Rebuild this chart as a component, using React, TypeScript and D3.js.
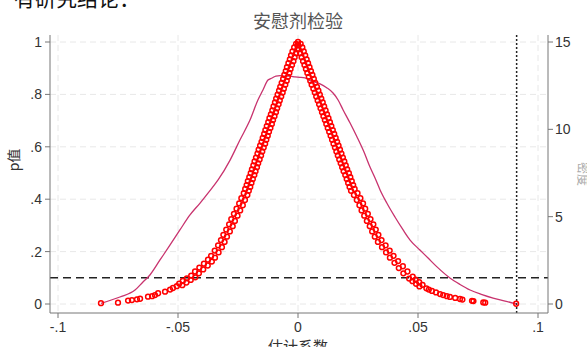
import React from "react";
import * as d3 from "d3";

// Placebo test: estimated coefficient vs p-value (red hollow circles)
const placeboCoef = [
  0.0, -0.0008, -0.0001, -0.0016, -0.0003, -0.0023, -0.0008, -0.0029, -0.0014, -0.0034, -0.0019,
  -0.004, -0.0025, -0.0046, -0.0031, -0.0051, -0.0036, -0.0057, -0.0042, -0.0062, -0.0047,
  -0.0068, -0.0053, -0.0074, -0.0059, -0.0079, -0.0064, -0.0085, -0.007, -0.0091, -0.0076,
  -0.0096, -0.0081, -0.0102, -0.0087, -0.0107, -0.0092, -0.0113, -0.0098, -0.0119, -0.0104,
  -0.0124, -0.0109, -0.013, -0.0115, -0.0136, -0.0121, -0.0141, -0.0126, -0.0147, -0.0132,
  -0.0152, -0.0137, -0.0158, -0.0143, -0.0164, -0.0149, -0.0169, -0.0154, -0.0175, -0.016,
  -0.0181, -0.0166, -0.0186, -0.0171, -0.0192, -0.0177, -0.0197, -0.0182, -0.0203, -0.0188,
  -0.0209, -0.0194, -0.0214, -0.0199, -0.022, -0.0205,
  -0.0226, -0.0211, -0.0236, -0.0221, -0.0245, -0.023, -0.0256, -0.0241, -0.0267, -0.0252,
  -0.0278, -0.0263, -0.0287, -0.0272, -0.0299, -0.0284, -0.0311, -0.0296, -0.0321, -0.0306,
  -0.0333, -0.0317, -0.0347, -0.0331, -0.0362, -0.0346, -0.0375, -0.0359, -0.0392, -0.0376,
  -0.0411, -0.0395, -0.0429, -0.0413, -0.0445, -0.0428, -0.0463, -0.0447, -0.048, -0.0465,
  -0.0495, -0.0482, -0.0505, -0.0521, -0.0533, -0.0554, -0.0583, -0.0596, -0.0608, -0.0625,
  -0.0658, -0.0671, -0.0692, -0.0708, -0.075, -0.0821,
  0.0011, 0.0001, 0.0018, 0.0003, 0.0024, 0.0009, 0.003, 0.0015, 0.0036, 0.0021,
  0.0042, 0.0027, 0.0048, 0.0033, 0.0054, 0.0039, 0.006, 0.0045, 0.0066, 0.0051,
  0.0072, 0.0057, 0.0079, 0.0064, 0.0085, 0.007, 0.0091, 0.0076, 0.0097, 0.0082,
  0.0103, 0.0088, 0.0109, 0.0094, 0.0115, 0.01, 0.0121, 0.0106, 0.0127, 0.0112,
  0.0133, 0.0118, 0.0139, 0.0124, 0.0145, 0.013, 0.0151, 0.0136, 0.0157, 0.0142,
  0.0163, 0.0148, 0.0169, 0.0154, 0.0175, 0.016, 0.0181, 0.0166, 0.0187, 0.0172,
  0.0193, 0.0178, 0.0199, 0.0184, 0.0205, 0.019, 0.0212, 0.0197, 0.0218, 0.0203,
  0.0224, 0.0209, 0.023, 0.0215, 0.0236, 0.0221,
  0.0248, 0.0233, 0.026, 0.0245, 0.0271, 0.0256, 0.028, 0.0265, 0.0291, 0.0276,
  0.0302, 0.0287, 0.0314, 0.0299, 0.0324, 0.0309, 0.0335, 0.032, 0.0348, 0.0333,
  0.0365, 0.035, 0.0382, 0.0367, 0.0398, 0.0383, 0.0417, 0.0402, 0.0437, 0.042,
  0.0456, 0.0439, 0.0478, 0.0463, 0.049, 0.0477, 0.0505, 0.0492, 0.0519, 0.0506,
  0.0535, 0.0545, 0.0558, 0.0575, 0.0592, 0.0605, 0.062, 0.0633,
  0.0655, 0.0675, 0.0685, 0.0725, 0.0731, 0.0772, 0.078, 0.0909,
];
const placeboP = [
  1.0, 0.993, 0.988, 0.979, 0.972, 0.964, 0.957, 0.949, 0.942, 0.934, 0.927,
  0.919, 0.912, 0.904, 0.897, 0.889, 0.882, 0.874, 0.867, 0.859, 0.852,
  0.844, 0.837, 0.829, 0.822, 0.814, 0.807, 0.799, 0.792, 0.784, 0.777,
  0.769, 0.762, 0.754, 0.747, 0.739, 0.732, 0.724, 0.717, 0.709, 0.702,
  0.694, 0.687, 0.679, 0.672, 0.664, 0.657, 0.649, 0.642, 0.634, 0.627,
  0.619, 0.612, 0.604, 0.597, 0.589, 0.582, 0.574, 0.567, 0.559, 0.552,
  0.544, 0.537, 0.529, 0.522, 0.514, 0.507, 0.499, 0.492, 0.484, 0.477,
  0.469, 0.462, 0.454, 0.447, 0.439, 0.432,
  0.423, 0.416, 0.404, 0.397, 0.384, 0.377, 0.364, 0.357, 0.344, 0.337,
  0.324, 0.317, 0.304, 0.297, 0.284, 0.277, 0.264, 0.257, 0.244, 0.237,
  0.224, 0.217, 0.204, 0.197, 0.184, 0.177, 0.169, 0.162, 0.154, 0.147,
  0.139, 0.132, 0.124, 0.117, 0.108, 0.102, 0.098, 0.092, 0.088, 0.082,
  0.078, 0.072, 0.068, 0.061, 0.055, 0.047, 0.041, 0.034, 0.03, 0.028,
  0.02, 0.018, 0.015, 0.013, 0.005, 0.003,
  0.993, 0.988, 0.979, 0.972, 0.964, 0.957, 0.949, 0.942, 0.934, 0.927,
  0.919, 0.912, 0.904, 0.897, 0.889, 0.882, 0.874, 0.867, 0.859, 0.852,
  0.844, 0.837, 0.829, 0.822, 0.814, 0.807, 0.799, 0.792, 0.784, 0.777,
  0.769, 0.762, 0.754, 0.747, 0.739, 0.732, 0.724, 0.717, 0.709, 0.702,
  0.694, 0.687, 0.679, 0.672, 0.664, 0.657, 0.649, 0.642, 0.634, 0.627,
  0.619, 0.612, 0.604, 0.597, 0.589, 0.582, 0.574, 0.567, 0.559, 0.552,
  0.544, 0.537, 0.529, 0.522, 0.514, 0.507, 0.499, 0.492, 0.484, 0.477,
  0.469, 0.462, 0.454, 0.447, 0.439, 0.432,
  0.423, 0.416, 0.404, 0.397, 0.384, 0.377, 0.364, 0.357, 0.344, 0.337,
  0.324, 0.317, 0.304, 0.297, 0.284, 0.277, 0.264, 0.257, 0.244, 0.237,
  0.224, 0.217, 0.204, 0.197, 0.184, 0.177, 0.164, 0.157, 0.144, 0.137,
  0.124, 0.117, 0.104, 0.097, 0.093, 0.087, 0.083, 0.077, 0.073, 0.067,
  0.06, 0.055, 0.05, 0.044, 0.038, 0.034, 0.03, 0.027,
  0.023, 0.019, 0.017, 0.012, 0.011, 0.006, 0.005, 0.001,
];

// Kernel density of placebo coefficients (right axis)
const densityCoef = [
  -0.0821, -0.0742, -0.0679, -0.0646, -0.0617, -0.0575, -0.0533, -0.0492, -0.045, -0.0408,
  -0.0375, -0.0333, -0.0283, -0.0242, -0.02, -0.0167, -0.0146, -0.0125, -0.0108, -0.0092,
  -0.0075, -0.0054, -0.0033, -0.0013, 0.0008, 0.0029, 0.005, 0.0092, 0.0121, 0.0146,
  0.0167, 0.0188, 0.0217, 0.0246, 0.0275, 0.03, 0.0321, 0.0342, 0.037, 0.0404,
  0.0438, 0.0467, 0.0508, 0.0542, 0.0578, 0.0633, 0.0675, 0.0717, 0.0767, 0.0813,
  0.0863, 0.0909,
];
const densityVal = [
  0.04, 0.4, 0.8, 1.26, 1.66, 2.52, 3.38, 4.24, 5.1, 5.78,
  6.35, 7.1, 8.24, 9.39, 10.53, 11.68, 12.25, 12.82, 12.94, 13.05,
  13.07, 13.05, 13.05, 13.0, 12.98, 12.94, 12.79, 12.6, 12.37, 12.08,
  11.68, 11.11, 10.36, 9.56, 8.7, 7.84, 7.21, 6.53, 5.78, 4.98,
  4.24, 3.66, 3.09, 2.63, 2.14, 1.49, 1.12, 0.8, 0.54, 0.34,
  0.17, 0.0,
];

const xTicks = [-0.1, -0.05, 0, 0.05, 0.1];
const xTickLabels = ["-.1", "-.05", "0", ".05", ".1"];
const yTicks = [0, 0.2, 0.4, 0.6, 0.8, 1];
const yTickLabels = ["0", ".2", ".4", ".6", ".8", "1"];
const y2Ticks = [0, 5, 10, 15];
const y2TickLabels = ["0", "5", "10", "15"];
const pThreshold = 0.1;
const trueCoef = 0.0911;

const W = 587;
const H = 347;
const frame = { left: 50, right: 548, top: 35, bottom: 313 };
const FONT = "'Liberation Sans', Arial, sans-serif";
const CJK = "'Noto Sans CJK SC', sans-serif";

export default function App() {
  const x = d3.scaleLinear().domain([-0.1, 0.1]).range([58, 538]);
  const y = d3.scaleLinear().domain([0, 1]).range([304, 42]);
  const y2 = d3.scaleLinear().domain([0, 15]).range([304, 42]);

  const densityLine = d3
    .line<number>()
    .x((_, i) => x(densityCoef[i]))
    .y((d) => y2(d))
    .curve(d3.curveMonotoneX)(densityVal) as string;

  const axisColor = "#777";
  const labelColor = "#333";

  return (
    <svg
      width={W}
      height={H}
      style={{ position: "absolute", left: 0, top: 0, display: "block", background: "#fff" }}
    >
      <rect x={0} y={0} width={W} height={H} fill="#fff" />
      {/* cropped document text at top */}
      <text x={14} y={6} fontFamily={CJK} fontSize={21} fill="#111">
        有研究结论：
      </text>
      {/* title */}
      <text x={298} y={28} textAnchor="middle" fontFamily={CJK} fontSize={18} fill="#555">
        安慰剂检验
      </text>

      {/* grid */}
      {yTicks.map((t) => (
        <line
          key={"gy" + t}
          x1={frame.left}
          x2={frame.right}
          y1={y(t)}
          y2={y(t)}
          stroke="#e8e8e8"
          strokeWidth={1}
          strokeDasharray="6,4"
        />
      ))}
      {xTicks.map((t) => (
        <line
          key={"gx" + t}
          x1={x(t)}
          x2={x(t)}
          y1={frame.top}
          y2={frame.bottom}
          stroke="#e8e8e8"
          strokeWidth={1}
          strokeDasharray="6,4"
        />
      ))}

      {/* reference lines */}
      <line
        x1={frame.left}
        x2={frame.right}
        y1={y(pThreshold)}
        y2={y(pThreshold)}
        stroke="#222"
        strokeWidth={1.5}
        strokeDasharray="8,5"
      />
      <line
        x1={x(trueCoef)}
        x2={x(trueCoef)}
        y1={frame.top}
        y2={frame.bottom}
        stroke="#222"
        strokeWidth={1.5}
        strokeDasharray="2,2"
      />

      {/* density */}
      <path d={densityLine} fill="none" stroke="#c8336e" strokeWidth={1.3} />

      {/* scatter */}
      {placeboCoef.map((c, i) => (
        <circle
          key={"p" + i}
          cx={x(c)}
          cy={y(placeboP[i])}
          r={2.4}
          fill="none"
          stroke="#ff0000"
          strokeWidth={1.5}
        />
      ))}

      {/* axes */}
      <line x1={frame.left} x2={frame.left} y1={frame.top} y2={frame.bottom} stroke={axisColor} />
      <line x1={frame.right} x2={frame.right} y1={frame.top} y2={frame.bottom} stroke={axisColor} />
      <line x1={frame.left} x2={frame.right} y1={frame.bottom} y2={frame.bottom} stroke={axisColor} />

      {yTicks.map((t, i) => (
        <g key={"yt" + t}>
          <line x1={frame.left - 5} x2={frame.left} y1={y(t)} y2={y(t)} stroke={axisColor} />
          <text
            x={frame.left - 8}
            y={y(t)}
            dy="0.35em"
            textAnchor="end"
            fontFamily={FONT}
            fontSize={14}
            fill={labelColor}
          >
            {yTickLabels[i]}
          </text>
        </g>
      ))}
      {y2Ticks.map((t, i) => (
        <g key={"y2t" + t}>
          <line x1={frame.right} x2={frame.right + 5} y1={y2(t)} y2={y2(t)} stroke={axisColor} />
          <text
            x={frame.right + 7}
            y={y2(t)}
            dy="0.35em"
            textAnchor="start"
            fontFamily={FONT}
            fontSize={14}
            fill={labelColor}
          >
            {y2TickLabels[i]}
          </text>
        </g>
      ))}
      {xTicks.map((t, i) => (
        <g key={"xt" + t}>
          <line x1={x(t)} x2={x(t)} y1={frame.bottom} y2={frame.bottom + 5} stroke={axisColor} />
          <text
            x={x(t)}
            y={frame.bottom + 19}
            textAnchor="middle"
            fontFamily={FONT}
            fontSize={14}
            fill={labelColor}
          >
            {xTickLabels[i]}
          </text>
        </g>
      ))}

      {/* axis titles */}
      <text
        transform={`translate(19,${(frame.top + frame.bottom) / 2 - 14}) rotate(-90)`}
        textAnchor="middle"
        fontFamily={CJK}
        fontSize={14}
        fill={labelColor}
      >
        p值
      </text>
      <text
        transform={`translate(578,${(frame.top + frame.bottom) / 2}) rotate(90)`}
        textAnchor="middle"
        fontFamily={CJK}
        fontSize={12}
        fill="#aaa"
      >
        密度
      </text>
      <text x={298} y={352} textAnchor="middle" fontFamily={CJK} fontSize={15} fill={labelColor}>
        估计系数
      </text>
    </svg>
  );
}
